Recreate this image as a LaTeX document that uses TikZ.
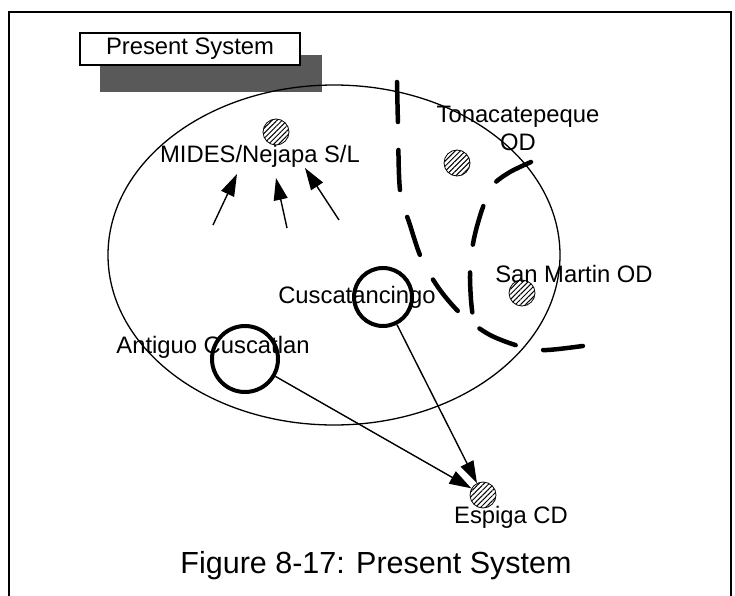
\documentclass[tikz,border=0pt]{standalone}
\usepackage{fontspec}
\setmainfont{Liberation Sans}
\usetikzlibrary{arrows.meta,patterns.meta,positioning}

\begin{document}
\begin{tikzpicture}[
  x=1pt, y=-1pt,
  font=\fontsize{23.8}{28.6}\selectfont,
  lbl/.style={anchor=base, inner sep=0pt, align=center},
  site/.style={circle, draw, line width=0.8pt, minimum size=26pt, inner sep=0pt,
               pattern={Lines[angle=45, distance=3.6pt, line width=1pt]}},
  town/.style={circle, draw, line width=4pt, inner sep=0pt},
  arr/.style={-{Triangle[length=22pt,width=14pt]}, line width=1.4pt},
  zone/.style={line width=4.5pt, line cap=round, dash pattern=on 40pt off 28pt}
]
  \useasboundingbox (0,0) rectangle (735,596);
  % frame, open at the bottom
  \draw[line width=2pt] (9,600) -- (9,12) -- (731,12) -- (731,600);

  % title tab with its shadow
  \fill[black!65] (100,55) rectangle (322,92);
  \node[draw, fill=white, line width=1.3pt, minimum width=220pt, minimum height=32pt,
        inner sep=0pt] (tab) at (190,49) {Present System};

  % service area
  \draw[line width=1.3pt] (334,255) ellipse [x radius=226, y radius=170];

  % zone boundaries
  \draw[zone] plot[smooth] coordinates {(397,82) (398,125) (400,190) (410,225)
    (422,260) (440,290) (462,315) (490,335) (522,347) (547,350) (590,345)};
  \draw[zone] plot[smooth] coordinates {(531,162) (510,172) (493,185) (483,207)
    (476,230) (472,250) (470,275) (471,300) (473,318)};

  % sites
  \node[site] (mides) at (276,132) {};
  \node[site] (tona) at (457,163) {};
  \node[site] (smartin) at (522,293) {};
  \node[site] (espiga) at (483,495) {};
  \node[town, minimum size=58pt] (cusc) at (383,297) {};
  \node[town, minimum size=66pt] (antiguo) at (245,359) {};

  % labels
  \node[lbl] (lblmides) at (260,163) {MIDES/Nejapa S/L};
  \node[lbl] (lbltona) at (518,151) {Tonacatepeque\\OD};
  \node[lbl] (lblsmartin) at (574,282) {San Martin OD};
  \node[lbl] (lblcusc) at (357,303) {Cuscatancingo};
  \node[lbl] (lblantiguo) at (213,353) {Antiguo Cuscatlan};
  \node[lbl] (lblespiga) at (511,523) {Espiga CD};

  % flows to the landfill
  \coordinate (m1t) at (213,225); \coordinate (m1h) at (237,174);
  \coordinate (m2t) at (287,228); \coordinate (m2h) at (276,178);
  \coordinate (m3t) at (339,220); \coordinate (m3h) at (305,168);
  \draw[arr] (m1t) -- (m1h);
  \draw[arr] (m2t) -- (m2h);
  \draw[arr] (m3t) -- (m3h);

  % flows to the compost site
  \draw[arr] (antiguo) -- (espiga);
  \draw[arr] (cusc) -- (espiga);

  \node[lbl, font=\fontsize{30.5}{36}\selectfont] (caption) at (376,573)
    {Figure 8-17: Present System};
\end{tikzpicture}
\end{document}
